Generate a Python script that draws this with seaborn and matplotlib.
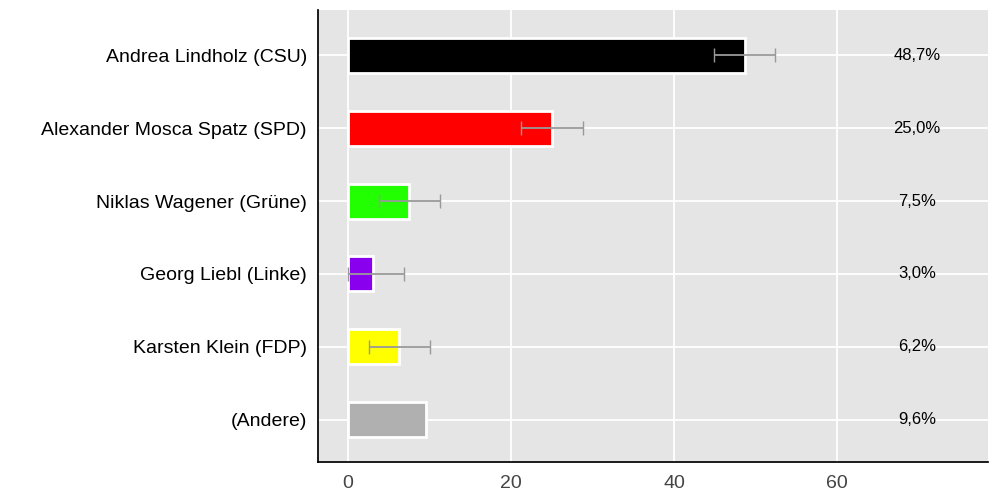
import matplotlib
matplotlib.use("Agg")
import matplotlib.pyplot as plt
import seaborn as sns
import pandas as pd

candidates = ["Andrea Lindholz (CSU)", "Alexander Mosca Spatz (SPD)", "Niklas Wagener (Grüne)",
              "Georg Liebl (Linke)", "Karsten Klein (FDP)", "(Andere)"]
values = [48.7, 25.0, 7.5, 3.0, 6.2, 9.6]
err_low = [44.9, 21.2, 3.8, 0.0, 2.5, None]
err_high = [52.4, 28.8, 11.3, 6.9, 10.0, None]
labels = ["48,7%", "25,0%", "7,5%", "3,0%", "6,2%", "9,6%"]
colors = ["#000000", "#ff0000", "#22ff00", "#8800ee", "#ffff00", "#b0b0b0"]

df = pd.DataFrame({"name": candidates, "value": values})
sns.set_theme(style="darkgrid", rc={"axes.facecolor": "#e5e5e5", "grid.color": "white", "grid.linewidth": 1.3})
plt.rcParams['font.family'] = ['Liberation Sans', 'DejaVu Sans']
fig = plt.figure(figsize=(10, 5), dpi=100)
ax = fig.add_axes([0.318, 0.076, 0.67, 0.904])
ax.set_axisbelow(True)
sns.barplot(data=df, x="value", y="name", hue="name", palette=colors, legend=False, saturation=1,
            width=0.48, edgecolor="white", linewidth=2, ax=ax, zorder=3)
for i, (lo, hi) in enumerate(zip(err_low, err_high)):
    if lo is not None:
        ax.errorbar([(lo + hi) / 2], [i], xerr=[[(hi - lo) / 2]], fmt="none",
                    ecolor="#999999", elinewidth=1.3, capsize=5, zorder=4)
    ax.text(69.8, i, labels[i], ha="center", va="center", fontsize=12, color="black")
ax.set_xlim(-3.7, 78.5)
ax.set_ylim(5.58, -0.62)
ax.set_xticks([0, 20, 40, 60])
ax.grid(True, axis="both", color="white", linewidth=1.3)
ax.set_xlabel("")
ax.set_ylabel("")
ax.tick_params(axis="y", labelsize=14, colors="black", length=0, pad=8)
ax.tick_params(axis="x", labelsize=14, colors="#444444")
for side in ["left", "bottom"]:
    ax.spines[side].set_visible(True)
    ax.spines[side].set_color("black")
for side in ["top", "right"]:
    ax.spines[side].set_visible(False)
fig.savefig("out.png", dpi=100)
